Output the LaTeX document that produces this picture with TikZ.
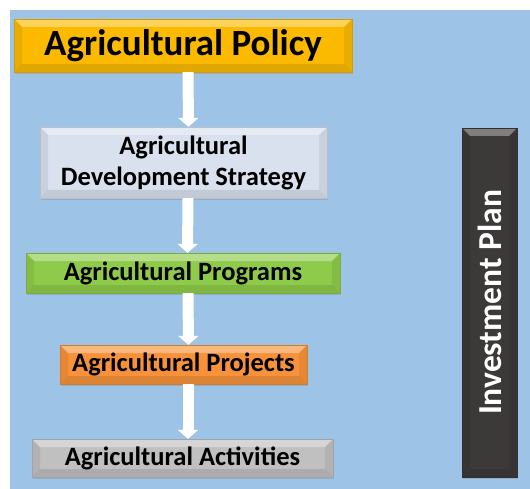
\documentclass[tikz,border=0pt]{standalone}
\usepackage{fontspec}
\setmainfont{Carlito}
\usetikzlibrary{arrows.meta,shadows}

\definecolor{bgblue}{HTML}{9DC3E6}
\definecolor{policygold}{HTML}{FBBA00}
\definecolor{strategyblue}{HTML}{D9E1EE}
\definecolor{programgreen}{HTML}{8FCB4A}
\definecolor{projectorange}{HTML}{F7923A}
\definecolor{activitygray}{HTML}{C0C0C0}
\definecolor{planblack}{HTML}{3C3A39}

\tikzset{
  level/.style={rectangle, inner sep=0pt, font=\bfseries, text=black, align=center,
    fill=#1, draw=#1!85!black, line width=0.3pt,
    drop shadow={shadow xshift=1pt, shadow yshift=-2pt, opacity=0.3},
    path picture={
      % bevel: light top, darker sides and bottom
      \coordinate (nw) at (path picture bounding box.north west);
      \coordinate (ne) at (path picture bounding box.north east);
      \coordinate (sw) at (path picture bounding box.south west);
      \coordinate (se) at (path picture bounding box.south east);
      \fill[white, opacity=0.35] (nw) -- (ne) -- ([shift={(-8pt,-8pt)}]ne) -- ([shift={(8pt,-8pt)}]nw) -- cycle;
      \fill[black, opacity=0.07] (nw) -- ([shift={(8pt,-8pt)}]nw) -- ([shift={(8pt,8pt)}]sw) -- (sw) -- cycle;
      \fill[black, opacity=0.07] (ne) -- ([shift={(-8pt,-8pt)}]ne) -- ([shift={(-8pt,8pt)}]se) -- (se) -- cycle;
      \fill[black, opacity=0.10] (sw) -- ([shift={(8pt,8pt)}]sw) -- ([shift={(-8pt,8pt)}]se) -- (se) -- cycle;
    }},
  flowarrow/.style={draw=white, line width=11pt, -{Triangle[width=20pt,length=9pt]}}
}

\begin{document}
\begin{tikzpicture}[x=1pt, y=1pt]
    % --- canvas ---
    \useasboundingbox (0,0) rectangle (530,-489);
    \fill[white] (0,0) rectangle (530,-489);
    \fill[bgblue] (10,-10) rectangle (530,-489);

    % --- levels ---
    \node[level=policygold, minimum width=338pt, minimum height=53pt,
          font=\fontsize{37}{40}\selectfont\bfseries] (policy) at (183,-45.5) {Agricultural Policy};
    \node[level=strategyblue, minimum width=287pt, minimum height=71pt,
          font=\fontsize{26.5}{31}\selectfont\bfseries] (strategy) at (183.5,-162.5) {Agricultural\\Development Strategy};
    \node[level=programgreen, minimum width=314pt, minimum height=40pt,
          font=\fontsize{26.5}{31}\selectfont\bfseries] (programs) at (183,-273) {Agricultural Programs};
    \node[level=projectorange, minimum width=247pt, minimum height=39pt,
          font=\fontsize{26.5}{31}\selectfont\bfseries] (projects) at (183.5,-364.5) {Agricultural Projects};
    \node[level=activitygray, minimum width=301pt, minimum height=38pt,
          font=\fontsize{26.5}{31}\selectfont\bfseries] (activities) at (182.5,-458) {Agricultural Activities};

    % --- side bar ---
    \node[level=planblack, minimum width=55pt, minimum height=349pt] (plan) at (489.5,-302.5) {};
    \node[rotate=90, text=white, font=\fontsize{33.5}{36}\selectfont\bfseries] (plantext) at (plan.center) {Investment Plan};

    % --- arrows ---
    \draw[flowarrow] ([xshift=5pt]policy.south) -- ([xshift=5pt]strategy.north);
    \draw[flowarrow] ([xshift=4.5pt]strategy.south) -- ([xshift=4.5pt]programs.north);
    \draw[flowarrow] ([xshift=5pt]programs.south) -- ([xshift=5pt]projects.north);
    \draw[flowarrow] ([xshift=4.5pt]projects.south) -- ([xshift=5.5pt]activities.north);
\end{tikzpicture}
\end{document}
